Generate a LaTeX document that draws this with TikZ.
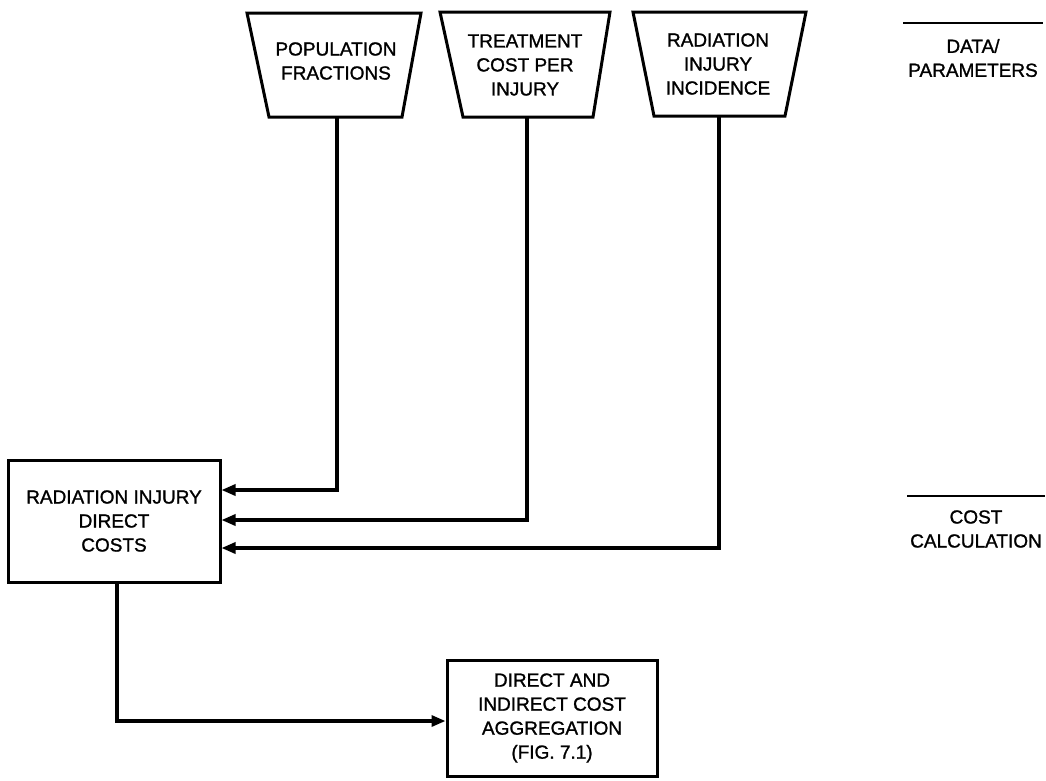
\documentclass[tikz,border=0pt]{standalone}
\usepackage{fontspec}
\setmainfont{Liberation Sans}[FakeBold=1.2]
\usetikzlibrary{arrows.meta}
\begin{document}
\begin{tikzpicture}[x=1pt,y=-1pt,
  every node/.style={font=\fontsize{19}{24}\selectfont, align=center, inner sep=0pt},
  outline/.style={draw, line width=3pt, line join=miter},
  flow/.style={line width=3.2pt, -{Triangle[length=14pt,width=11pt]}},
  rule/.style={line width=2.6pt}]
\useasboundingbox (0,0) rectangle (1046,780);

% input data trapezia (wide side up)
\draw[outline] (247,13) -- (421,13) -- (402,117) -- (269,117) -- cycle;
\draw[outline] (440,12) -- (610,12) -- (593,117) -- (463,117) -- cycle;
\draw[outline] (633,12) -- (806,12) -- (785,116) -- (654,116) -- cycle;
\coordinate (popb) at (337,117);
\coordinate (treatb) at (527,117);
\coordinate (incb) at (719,116);
\node (pop) at (336,61) {POPULATION\\FRACTIONS};
\node (treat) at (525,65) {TREATMENT\\COST PER\\INJURY};
\node (inc) at (718,64) {RADIATION\\INJURY\\INCIDENCE};

% cost boxes
\node[outline, minimum width=212pt, minimum height=122pt] (rid) at (114,521)
  {RADIATION INJURY\\DIRECT\\COSTS};
\node[outline, minimum width=210pt, minimum height=116pt] (agg) at (552,718)
  {DIRECT AND\\INDIRECT COST\\AGGREGATION\\(FIG. 7.1)};

% connectors
\draw[flow] (popb) |- ([yshift=31pt]rid.east);
\draw[flow] (treatb) |- ([yshift=1pt]rid.east);
\draw[flow] (incb) |- ([yshift=-27pt]rid.east);
\draw[flow] ([xshift=3pt]rid.south) |- ([yshift=-3pt]agg.west);

% level labels on the right
\coordinate (r1a) at (903,23);
\coordinate (r1b) at (1043,23);
\coordinate (r2a) at (907,496);
\coordinate (r2b) at (1045,496);
\draw[rule] (r1a) -- (r1b);
\draw[rule] (r2a) -- (r2b);
\node (lvl1) at (973,58) {DATA/\\PARAMETERS};
\node (lvl2) at (976,529) {COST\\CALCULATION};
\end{tikzpicture}
\end{document}
